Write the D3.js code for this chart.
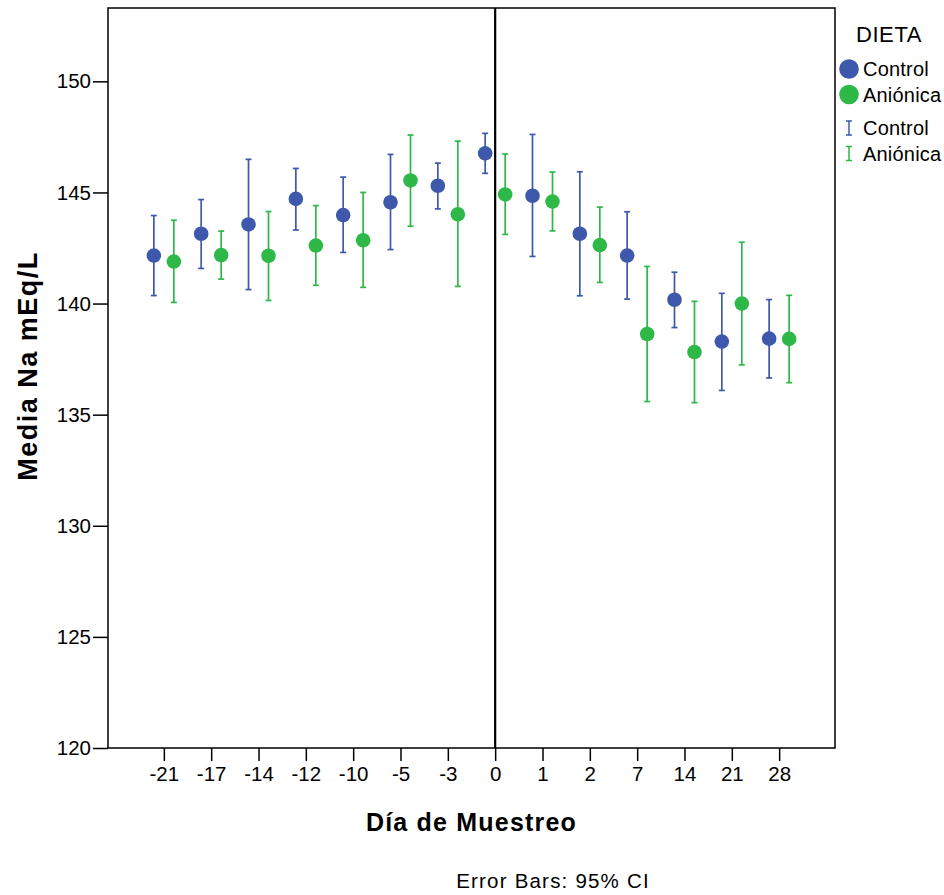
<!DOCTYPE html>
<html>
<head>
<meta charset="utf-8">
<script src="https://cdn.jsdelivr.net/npm/d3@7"></script>
<style>
  body { margin: 0; background: #fff; }
  text { font-family: "Liberation Sans", Arial, sans-serif; fill: #000; }
</style>
</head>
<body>
<svg id="chart" width="944" height="895"></svg>
<script>
// Sampling days (categorical)
const days = ["-21", "-17", "-14", "-12", "-10", "-5", "-3", "0", "1", "2", "7", "14", "21", "28"];

// Mean Na (mEq/L) with 95% CI bounds, per diet
const controlMean  = [142.16, 143.14, 143.56, 144.71, 143.98, 144.56, 145.30, 146.76, 144.85, 143.14, 142.16, 140.17, 138.29, 138.42];
const controlLow   = [140.36, 141.58, 140.63, 143.31, 142.30, 142.43, 144.26, 145.86, 142.12, 140.35, 140.20, 138.92, 136.09, 136.65];
const controlHigh  = [143.96, 144.68, 146.49, 146.08, 145.69, 146.71, 146.32, 147.66, 147.61, 145.93, 144.13, 141.41, 140.46, 140.18];

const anionMean    = [141.89, 142.18, 142.15, 142.61, 142.85, 145.54, 144.02, 144.91, 144.59, 142.63, 138.63, 137.82, 140.00, 138.41];
const anionLow     = [140.05, 141.10, 140.14, 140.82, 140.73, 143.48, 140.77, 143.11, 143.27, 140.95, 135.59, 135.54, 137.24, 136.44];
const anionHigh    = [143.75, 143.26, 144.14, 144.41, 145.00, 147.58, 147.31, 146.73, 145.92, 144.34, 141.67, 140.10, 142.76, 140.37];

const yTicks = [120, 125, 130, 135, 140, 145, 150];
const referenceDay = "0";

const groups = [
  { name: "Control",  color: "#3E58AC", offset: -10, mean: controlMean, low: controlLow, high: controlHigh },
  { name: "Aniónica", color: "#2EB848", offset: 10,  mean: anionMean,   low: anionLow,   high: anionHigh }
];

const svg = d3.select("#chart");
const plot = { left: 108, right: 835, top: 8, bottom: 748 };

const x = d3.scalePoint().domain(days).range([plot.left, plot.right]).padding(1.18);
const y = d3.scaleLinear().domain([120, 153.3]).range([plot.bottom, plot.top]);

// Axes
const xAxis = svg.append("g")
  .attr("transform", `translate(0,${plot.bottom})`)
  .call(d3.axisBottom(x).tickSize(13).tickPadding(5));
xAxis.select(".domain").remove();
xAxis.selectAll(".tick line").attr("stroke", "#000").attr("stroke-width", 1.5);
xAxis.selectAll(".tick text").attr("font-size", 20.5).attr("font-family", "Liberation Sans, Arial, sans-serif");

const yAxis = svg.append("g")
  .attr("transform", `translate(${plot.left},0)`)
  .call(d3.axisLeft(y).tickValues(yTicks).tickSize(15).tickPadding(2).tickFormat(d3.format("d")));
yAxis.select(".domain").remove();
yAxis.selectAll(".tick line").attr("stroke", "#000").attr("stroke-width", 1.5);
yAxis.selectAll(".tick text").attr("font-size", 20.5).attr("font-family", "Liberation Sans, Arial, sans-serif");

// Plot frame
svg.append("rect")
  .attr("x", plot.left).attr("y", plot.top)
  .attr("width", plot.right - plot.left).attr("height", plot.bottom - plot.top)
  .attr("fill", "none").attr("stroke", "#000").attr("stroke-width", 1.5);

// Reference line at day 0
svg.append("line")
  .attr("x1", x(referenceDay)).attr("x2", x(referenceDay))
  .attr("y1", plot.top).attr("y2", plot.bottom)
  .attr("stroke", "#000").attr("stroke-width", 2.2);

// Error bars and means
const capHalf = 3;
groups.forEach(g => {
  const layer = svg.append("g");
  days.forEach((d, i) => {
    const cx = x(d) + g.offset;
    layer.append("line")
      .attr("x1", cx).attr("x2", cx)
      .attr("y1", y(g.low[i])).attr("y2", y(g.high[i]))
      .attr("stroke", g.color).attr("stroke-width", 1.7);
    [g.low[i], g.high[i]].forEach(v => {
      layer.append("line")
        .attr("x1", cx - capHalf).attr("x2", cx + capHalf)
        .attr("y1", y(v)).attr("y2", y(v))
        .attr("stroke", g.color).attr("stroke-width", 1.7);
    });
    layer.append("circle")
      .attr("cx", cx).attr("cy", y(g.mean[i]))
      .attr("r", 7.3).attr("fill", g.color);
  });
});

// Axis titles
svg.append("text")
  .attr("x", (plot.left + plot.right) / 2).attr("y", 831)
  .attr("text-anchor", "middle").attr("font-size", 25).attr("font-weight", "bold")
  .attr("letter-spacing", 1.2)
  .text("Día de Muestreo");

svg.append("text")
  .attr("transform", `translate(37,366) rotate(-90)`)
  .attr("text-anchor", "middle").attr("font-size", 27).attr("font-weight", "bold")
  .attr("letter-spacing", 1.5)
  .text("Media Na mEq/L");

svg.append("text")
  .attr("x", 553).attr("y", 888)
  .attr("text-anchor", "middle").attr("font-size", 20.5)
  .attr("letter-spacing", 1.2)
  .text("Error Bars: 95% CI");

// Legend
const legend = svg.append("g");
legend.append("text")
  .attr("x", 889).attr("y", 42)
  .attr("text-anchor", "middle").attr("font-size", 22)
  .attr("letter-spacing", 0.6)
  .text("DIETA");

groups.forEach((g, i) => {
  const cy = 69 + i * 25.5;
  legend.append("circle").attr("cx", 849).attr("cy", cy).attr("r", 9.8).attr("fill", g.color);
  legend.append("text").attr("x", 863).attr("y", cy + 7).attr("font-size", 20)
    .attr("letter-spacing", 0.2).text(g.name);
});

groups.forEach((g, i) => {
  const cy = 128 + i * 25.5;
  const lg = legend.append("g").attr("stroke", g.color).attr("stroke-width", 1.5);
  lg.append("line").attr("x1", 849).attr("x2", 849).attr("y1", cy - 7).attr("y2", cy + 7);
  lg.append("line").attr("x1", 846).attr("x2", 852).attr("y1", cy - 7).attr("y2", cy - 7);
  lg.append("line").attr("x1", 846).attr("x2", 852).attr("y1", cy + 7).attr("y2", cy + 7);
  legend.append("text").attr("x", 863).attr("y", cy + 7).attr("font-size", 20)
    .attr("letter-spacing", 0.2).text(g.name);
});
</script>
</body>
</html>
